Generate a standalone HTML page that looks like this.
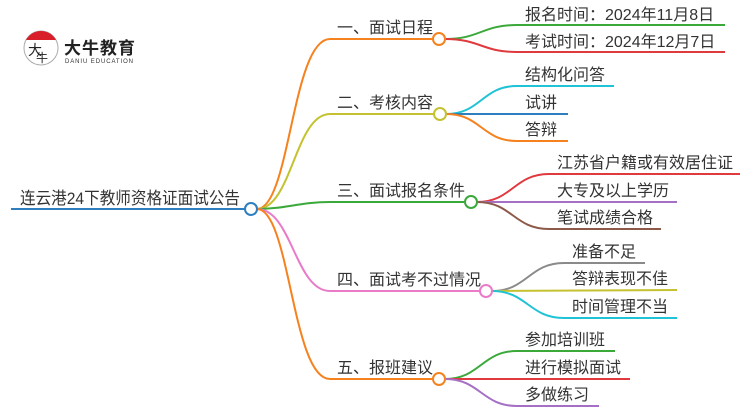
<!DOCTYPE html>
<html><head><meta charset="utf-8"><style>
html,body{margin:0;padding:0;background:#fff;}
svg{display:block;}
text{font-family:"Liberation Sans","Noto Sans CJK SC",sans-serif;fill:#333;}
</style></head><body>
<svg width="750" height="410" viewBox="0 0 750 410" xmlns="http://www.w3.org/2000/svg">
<g fill="none" stroke-width="2">
<line x1="11" y1="209" x2="245" y2="209" stroke="#2f7fc0"/>
<path d="M257,209 C290,209 292,39 330,39 L433,39" stroke="#f5821f"/>
<path d="M257,209 C292,209 295,114 330,114 L434,114" stroke="#c4c230"/>
<path d="M257,209 C285,209 300,202 330,202 L464,202" stroke="#3aa93a"/>
<path d="M257,209 C292,209 295,291 330,291 L480,291" stroke="#e97bc8"/>
<path d="M257,209 C290,209 292,379 330,379 L433,379" stroke="#f5821f"/>
<path d="M445,39 C480,39 482,25 517,25 L725,25" stroke="#3aa93a"/>
<path d="M445,39 C480,39 482,52 517,52 L725,52" stroke="#e0393e"/>
<path d="M446,114 C481,114 482,86 517,86 L614,86" stroke="#1fc3d6"/>
<path d="M446,114 L568,114" stroke="#2f7fc0"/>
<path d="M446,114 C481,114 482,141 517,141 L568,141" stroke="#f5821f"/>
<path d="M477,202 C512,202 514,174 549,174 L740,174" stroke="#e0393e"/>
<path d="M477,202 L677,202" stroke="#a56fc6"/>
<path d="M477,202 C512,202 514,229 549,229 L661,229" stroke="#8d5a4a"/>
<path d="M492,291 C527,291 529,263 564,263 L645,263" stroke="#8a8a8a"/>
<path d="M492,291 L677,290" stroke="#c4c230"/>
<path d="M492,291 C527,291 529,318 564,318 L677,318" stroke="#1fc3d6"/>
<path d="M445,379 C480,379 482,351 517,351 L615,351" stroke="#3aa93a"/>
<path d="M445,379 L630,379" stroke="#e0393e"/>
<path d="M445,379 C480,379 482,406 517,406 L599,406" stroke="#a56fc6"/>
</g>
<g fill="#fff" stroke-width="2">
<circle cx="251" cy="209" r="6" stroke="#2f7fc0"/>
<circle cx="439" cy="39" r="6" stroke="#f5821f"/>
<circle cx="440" cy="114" r="6" stroke="#c4c230"/>
<circle cx="471" cy="202" r="6" stroke="#3aa93a"/>
<circle cx="486" cy="291" r="6" stroke="#e97bc8"/>
<circle cx="439" cy="379" r="6" stroke="#f5821f"/>
</g>
<!-- logo -->
<circle cx="41" cy="48" r="17" fill="#fff" stroke="#aaa" stroke-width="1"/>
<path d="M26,40 A17,17 0 0 1 56,40 Z" fill="#d9202a"/>
<text x="28" y="55" font-size="14" style="fill:#222">大</text>
<text x="36" y="62" font-size="12" style="fill:#222">牛</text>
<text x="64" y="54" font-size="17" font-weight="bold" style="fill:#222" textLength="71">大牛教育</text>
<text x="65" y="63" font-size="6" style="fill:#333" textLength="68">DANIU EDUCATION</text>
<text x="20" y="204" font-size="17" textLength="220" lengthAdjust="spacingAndGlyphs">连云港24下教师资格证面试公告</text>
<g font-size="16">
<text x="337" y="33">一、面试日程</text>
<text x="337" y="108">二、考核内容</text>
<text x="337" y="196">三、面试报名条件</text>
<text x="337" y="285">四、面试考不过情况</text>
<text x="337" y="373">五、报班建议</text>
<text x="525" y="20">报名时间：2024年11月8日</text>
<text x="525" y="47">考试时间：2024年12月7日</text>
<text x="525" y="80">结构化问答</text>
<text x="525" y="108">试讲</text>
<text x="525" y="135">答辩</text>
<text x="557" y="168">江苏省户籍或有效居住证</text>
<text x="557" y="196">大专及以上学历</text>
<text x="557" y="223">笔试成绩合格</text>
<text x="572" y="257">准备不足</text>
<text x="572" y="284">答辩表现不佳</text>
<text x="572" y="312">时间管理不当</text>
<text x="525" y="345">参加培训班</text>
<text x="525" y="373">进行模拟面试</text>
<text x="525" y="400">多做练习</text>
</g>
</svg>
</body></html>
